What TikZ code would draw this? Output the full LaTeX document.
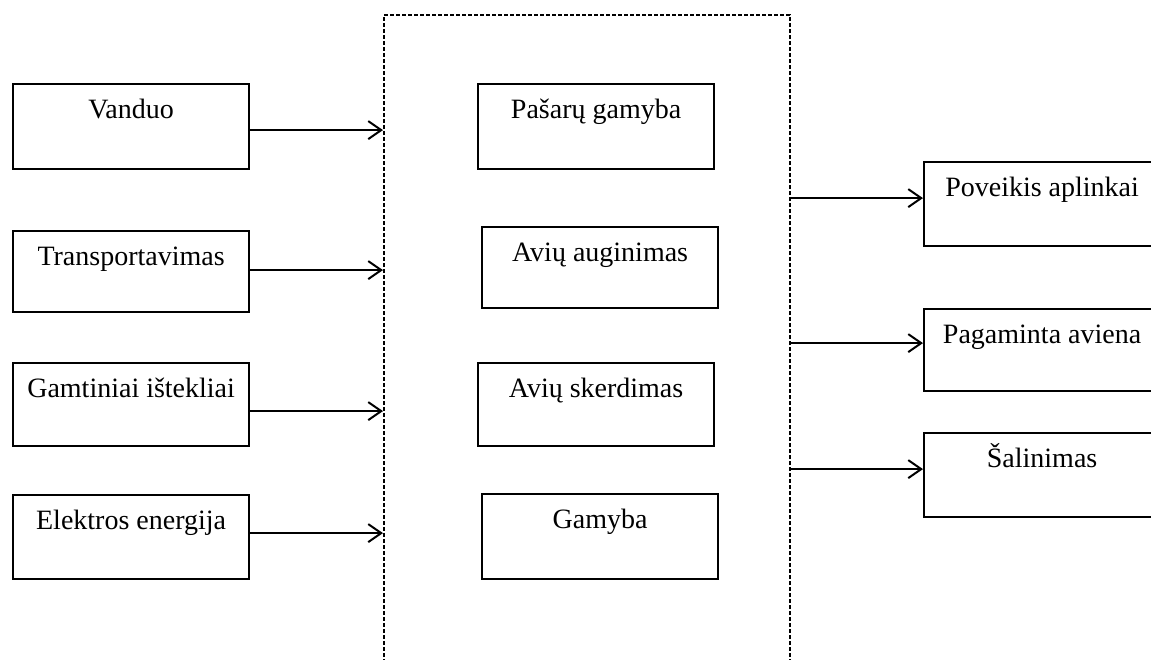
\documentclass[tikz,border=0pt]{standalone}
\usepackage{fontspec}
\setmainfont{Liberation Serif}
\usetikzlibrary{arrows.meta,calc}
\tikzset{
  box/.style={draw, line width=2.2pt, inner sep=0pt, text height=34pt, minimum width=236pt, anchor=north west, font=\fontsize{28}{32}\selectfont},
  sysbox/.style={draw, line width=1.7pt, dash pattern=on 4pt off 2pt, inner sep=0pt, anchor=north west, minimum width=406pt, minimum height=680pt},
  conn/.style={line width=2.2pt, -{Straight Barb[length=13pt,width=18pt,line width=2pt]}}
}
\begin{document}
\begin{tikzpicture}[x=1pt,y=-1pt]
\clip (0,0) rectangle (1151,659);
\fill[white] (0,0) rectangle (1151,659);
\node[sysbox] (sys) at (383,14) {};
% inputs
\node[box, text depth=51pt] (v) at (12,83) {Vanduo};
\node[box, text depth=47pt] (t) at (12,230) {Transportavimas};
\node[box, text depth=49pt] (g) at (12,362) {Gamtiniai ištekliai};
\node[box, text depth=50pt] (e) at (12,494) {Elektros energija};
% processes
\node[box, text depth=51pt] (p1) at (477,83) {Pašarų gamyba};
\node[box, text depth=47pt] (p2) at (481,226) {Avių auginimas};
\node[box, text depth=49pt] (p3) at (477,362) {Avių skerdimas};
\node[box, text depth=51pt] (p4) at (481,493) {Gamyba};
% outputs
\node[box, text depth=50pt] (o1) at (923,161) {Poveikis aplinkai};
\node[box, text depth=48pt] (o2) at (923,308) {Pagaminta aviena};
\node[box, text depth=50pt] (o3) at (923,432) {Šalinimas};
% connectors
\draw[conn] ([yshift=-3.5pt]v.east) -- ([yshift=-3.5pt]v.east -| sys.west);
\draw[conn] ([yshift=1.5pt]t.east) -- ([yshift=1.5pt]t.east -| sys.west);
\draw[conn] ([yshift=-6.5pt]g.east) -- ([yshift=-6.5pt]g.east -| sys.west);
\draw[conn] ([yshift=4pt]e.east) -- ([yshift=4pt]e.east -| sys.west);
\draw[conn] ([yshift=6pt]o1.west -| sys.east) -- ([yshift=6pt]o1.west);
\draw[conn] ([yshift=7pt]o2.west -| sys.east) -- ([yshift=7pt]o2.west);
\draw[conn] ([yshift=6pt]o3.west -| sys.east) -- ([yshift=6pt]o3.west);
\end{tikzpicture}
\end{document}
